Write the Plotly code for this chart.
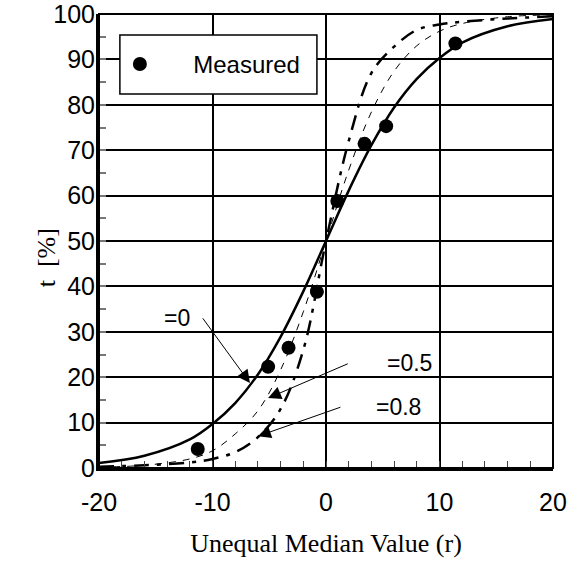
import plotly.graph_objects as go

# Measured points
meas_x = [-11.3, -5.1, -3.3, -0.8, 1.0, 3.4, 5.3, 11.4]
meas_y = [4.2, 22.3, 26.5, 38.8, 58.8, 71.4, 75.3, 93.5]

# Curves
curve_x = [-20, -16, -12, -10, -8, -6, -4, -2, 0, 2, 4, 6, 8, 10, 12, 16, 20]
curve_0 = [1.1, 2.7, 6.3, 9.7, 14.3, 20.6, 28.9, 38.9, 50, 61.1, 71.1, 79.4, 85.7, 90.3, 93.7, 97.3, 98.9]
curve_05 = [0.2, 0.6, 2.0, 3.8, 7.5, 12.6, 21.6, 34.4, 50, 65.6, 78.4, 87.4, 93.0, 96.2, 97.9, 99.4, 99.8]
curve_08 = [0.3, 0.6, 1.2, 2.0, 3.5, 6.8, 13.0, 26.0, 50, 72.0, 87.0, 92.8, 96.5, 97.7, 98.3, 99.0, 99.5]

x_ticks = [-20, -10, 0, 10, 20]
y_ticks = [0, 10, 20, 30, 40, 50, 60, 70, 80, 90, 100]

SANS = "Liberation Sans, Arial, sans-serif"
SERIF = "Liberation Serif, Times New Roman, serif"

fig = go.Figure()

fig.add_trace(go.Scatter(x=curve_x, y=curve_0, mode="lines", line=dict(color="black", width=2.5, shape="spline"),
                         showlegend=False, hoverinfo="skip"))
fig.add_trace(go.Scatter(x=curve_x, y=curve_05, mode="lines",
                         line=dict(color="black", width=1, dash="7px,7px", shape="spline"),
                         showlegend=False, hoverinfo="skip"))
fig.add_trace(go.Scatter(x=curve_x, y=curve_08, mode="lines",
                         line=dict(color="black", width=2.5, dash="15px,8px,4px,8px", shape="spline"),
                         showlegend=False, hoverinfo="skip"))
fig.add_trace(go.Scatter(x=meas_x, y=meas_y, mode="markers", name="\u00a0\u00a0\u00a0\u00a0\u00a0Measured",
                         marker=dict(color="black", size=14, symbol="circle")))

arrows = [
    # (tip_x, tip_y, tail_x, tail_y)
    (-6.7, 18.7, -10.95, 33.3),
    (-5.1, 15.4, 2.05, 23.1),
    (-6.0, 7.0, 1.4, 13.5),
]
for tx, ty, ax, ay in arrows:
    fig.add_annotation(x=tx, y=ty, ax=ax, ay=ay, xref="x", yref="y", axref="x", ayref="y",
                       text="", showarrow=True, arrowhead=2, arrowsize=2.6, arrowwidth=1, arrowcolor="black")

labels = [("=0", -13.1, 33.0), ("=0.5", 7.4, 23.1), ("=0.8", 6.35, 13.4)]
for t, lx, ly in labels:
    fig.add_annotation(x=lx, y=ly, xref="x", yref="y", text=t, showarrow=False,
                       font=dict(family=SANS, size=23, color="black"))

# y axis title
fig.add_annotation(x=-0.152, y=0.463, xref="paper", yref="paper", text="t  [%]", showarrow=False,
                   textangle=-90, font=dict(family=SERIF, size=26, color="black"))

# legend frame
fig.add_shape(type="rect", xref="paper", yref="paper", x0=0.046, y0=0.8238, x1=0.48, y1=0.9537,
              line=dict(color="black", width=1.5), fillcolor="white", layer="above")
# plot frame
fig.add_shape(type="rect", xref="paper", yref="paper", x0=0, y0=0, x1=1, y1=1,
              line=dict(color="black", width=2), layer="above")

fig.update_layout(
    width=568, height=569,
    margin=dict(l=99, r=15, t=14, b=101, autoexpand=False),
    paper_bgcolor="white", plot_bgcolor="white",
    font=dict(family=SANS, size=25, color="black"),
    legend=dict(x=0.046, y=0.889, xanchor="left", yanchor="middle",
                bgcolor="rgba(0,0,0,0)", borderwidth=0,
                font=dict(family=SANS, size=24, color="black")),
    xaxis=dict(range=[-20, 20], tickvals=x_ticks, ticktext=[str(v) for v in x_ticks],
               showgrid=True, gridcolor="black", gridwidth=1.5, zeroline=False, automargin=False,
               showline=True, linecolor="black", linewidth=3, ticks="", ticklen=0,
               ticklabelstandoff=10, ticklabeloverflow="allow",
               minor=dict(dtick=2, tick0=0, ticks="inside", ticklen=7, tickcolor="#444", tickwidth=1, showgrid=False),
               title=dict(text="Unequal Median Value (r)", font=dict(family=SERIF, size=26), standoff=19)),
    yaxis=dict(range=[0, 100], tickvals=y_ticks, ticktext=[str(v) for v in y_ticks],
               showgrid=True, gridcolor="black", gridwidth=1.5, zeroline=False, automargin=False,
               showline=True, linecolor="black", linewidth=3, ticks="", ticklen=0,
               ticklabelstandoff=-4, ticklabeloverflow="allow",
               minor=dict(dtick=5, tick0=0, ticks="inside", ticklen=7, tickcolor="#777", tickwidth=1.5, showgrid=False)),
)

fig.write_html("out.html", config={"displayModeBar": False},
               post_script="document.body.style.margin='0';document.body.style.overflow='hidden';")
